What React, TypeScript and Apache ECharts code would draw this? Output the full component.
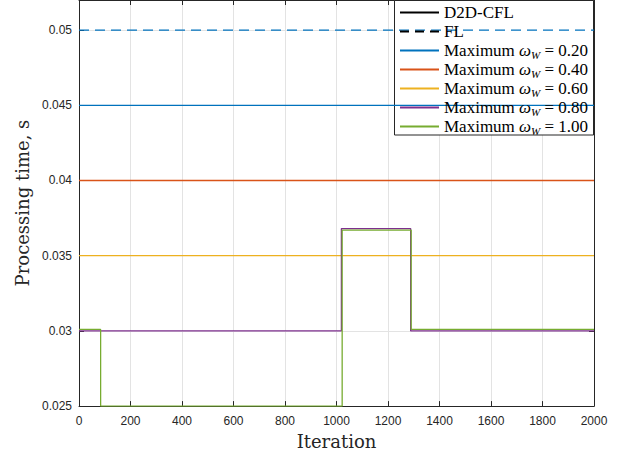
import React, { useEffect, useRef } from "react";
import * as echarts from "echarts";

const colors = ["#0072BD", "#D95319", "#EDB120", "#7E2F8E", "#77AC30"];
const omegaLabels = ["0.20", "0.40", "0.60", "0.80", "1.00"];

// Constant D2D-CFL levels
const d2dConstant = [0.045, 0.04, 0.035];
// FL level visible for omega 0.20
const flLevel020 = 0.05;

// Step series (value holds from x until next x)
const purpleX = [0, 1019, 1288, 2000];
const purpleY = [0.03, 0.0368, 0.03, 0.03];
const greenX = [0, 84, 1022, 1290, 2000];
const greenY = [0.0301, 0.025, 0.0367, 0.0301, 0.0301];

const xTicks = { min: 0, max: 2000, interval: 200 };
const yTicks = { min: 0.025, max: 0.052, interval: 0.005 };

const axisColor = "#262626";
const serif = "Liberation Serif";
const nameFont = "DejaVu Serif";

export default function App() {
  const ref = useRef<HTMLDivElement>(null);
  useEffect(() => {
    if (!ref.current) return;
    const chart = echarts.init(ref.current, undefined, { renderer: "svg" });
    const lw = 1.3;
    const series: any[] = [
      { name: "D2D-CFL", type: "line", data: [], symbol: "none", color: "#000", lineStyle: { type: "solid", width: lw } },
      { name: "FL", type: "line", data: [], symbol: "none", color: "#000", lineStyle: { type: [9, 6], width: lw } },
    ];
    d2dConstant.forEach((v, i) => {
      series.push({
        name: "w" + omegaLabels[i],
        type: "line",
        symbol: "none",
        color: colors[i],
        lineStyle: { width: lw },
        data: [[xTicks.min, v], [xTicks.max, v]],
      });
    });
    series.push({
      name: "w" + omegaLabels[3],
      type: "line",
      symbol: "none",
      step: "end",
      color: colors[3],
      lineStyle: { width: lw },
      data: purpleX.map((x, i) => [x, purpleY[i]]),
    });
    series.push({
      name: "w" + omegaLabels[4],
      type: "line",
      symbol: "none",
      step: "end",
      color: colors[4],
      lineStyle: { width: lw },
      data: greenX.map((x, i) => [x, greenY[i]]),
    });
    series.push({
      name: "FL 0.20",
      type: "line",
      symbol: "none",
      color: colors[0],
      lineStyle: { width: lw, type: [10, 6] },
      data: [[xTicks.min, flLevel020], [xTicks.max, flLevel020]],
    });

    const tickLabel = { color: axisColor, fontFamily: "Liberation Sans", fontSize: 12 };
    chart.setOption({
      animation: false,
      grid: { left: 79, right: 36, top: 0, bottom: 48, containLabel: false },
      xAxis: [
        {
          type: "value",
          ...xTicks,
          name: "Iteration",
          nameLocation: "middle",
          nameGap: 22,
          nameTextStyle: { fontFamily: nameFont, fontSize: 18, color: axisColor },
          axisLine: { show: true, lineStyle: { color: axisColor, width: 1 } },
          axisTick: { show: true, inside: true, length: 5, lineStyle: { color: axisColor } },
          axisLabel: { ...tickLabel, margin: 9, formatter: (v: number) => String(v) },
          splitLine: { show: true, lineStyle: { color: "#e3e3e3", width: 1 } },
        },
        {
          type: "value",
          ...xTicks,
          position: "top",
          axisLine: { show: true, onZero: false, lineStyle: { color: axisColor, width: 1 } },
          axisTick: { show: true, inside: true, length: 5, lineStyle: { color: axisColor } },
          axisLabel: { show: false },
          splitLine: { show: false },
        },
      ],
      yAxis: [
        {
          type: "value",
          ...yTicks,
          name: "Processing time, s",
          nameLocation: "middle",
          nameGap: 47,
          nameTextStyle: { fontFamily: nameFont, fontSize: 18, color: axisColor },
          axisLine: { show: true, lineStyle: { color: axisColor, width: 1 } },
          axisTick: { show: true, inside: true, length: 5, lineStyle: { color: axisColor } },
          axisLabel: { ...tickLabel, margin: 7, showMaxLabel: false },
          splitLine: { show: true, lineStyle: { color: "#e3e3e3", width: 1 } },
        },
        {
          type: "value",
          ...yTicks,
          position: "right",
          axisLine: { show: true, onZero: false, lineStyle: { color: axisColor, width: 1 } },
          axisTick: { show: true, inside: true, length: 5, lineStyle: { color: axisColor } },
          axisLabel: { show: false },
          splitLine: { show: false },
        },
      ],
      graphic: [
        {
          type: "rect",
          z: 3,
          shape: { x: 394.5, y: 0.5, width: 199, height: 134.5 },
          style: { fill: "#fff", stroke: axisColor, lineWidth: 1 },
        },
      ],
      legend: {
        orient: "vertical",
        left: 394,
        top: 0,
        padding: [3, 5, 3, 5],
        itemWidth: 39,
        itemHeight: 14,
        itemGap: 0,
        data: ["D2D-CFL", "FL", ...omegaLabels.map((l) => "w" + l)],
        lineStyle: { width: 2 },
        itemStyle: { opacity: 0, borderWidth: 0 },
        formatter: (name: string) =>
          name.startsWith("w") ? `Maximum {w|ω}{s|W} = ${name.slice(1)}` : name,
        textStyle: {
          fontFamily: serif,
          fontSize: 17,
          lineHeight: 19,
          color: "#000",
          rich: {
            w: { fontFamily: serif, fontSize: 17, fontStyle: "italic", lineHeight: 19, color: "#000" },
            s: { fontFamily: serif, fontSize: 11, fontStyle: "italic", lineHeight: 13, verticalAlign: "bottom", color: "#000" },
          },
        },
      },
      series,
    });
    return () => chart.dispose();
  }, []);
  return (
    <div
      ref={ref}
      style={{ position: "fixed", left: 0, top: 0, width: 630, height: 455, background: "#fff" }}
    />
  );
}
